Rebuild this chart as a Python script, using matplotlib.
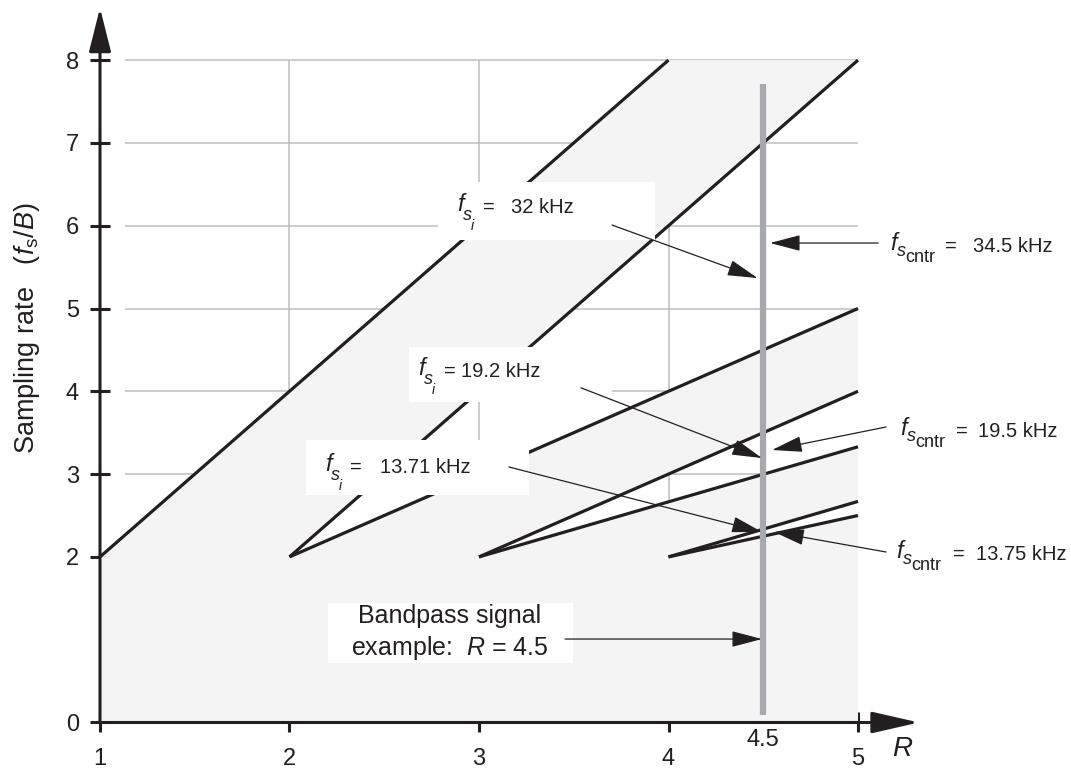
import matplotlib
matplotlib.use('Agg')
import matplotlib.pyplot as plt
from matplotlib.patches import Rectangle

plt.rcParams['font.family'] = ['Liberation Sans', 'DejaVu Sans']
plt.rcParams['mathtext.fontset'] = 'custom'
plt.rcParams['mathtext.rm'] = 'Liberation Sans'
plt.rcParams['mathtext.it'] = 'Liberation Sans:italic'
plt.rcParams['mathtext.bf'] = 'Liberation Sans:bold'

INK = '#231f20'

# boundary lines (start, end)
upper_r = [(1, 4), (2, 5), (3, 5), (4, 5)]
upper_fs = [(2, 8), (2, 5), (2, 3.33), (2, 2.5)]
lower_r = [(2, 5), (3, 5), (4, 5), (5, 5)]
lower_fs = [(2, 8), (2, 4), (2, 2.67), (2, 2)]

grid_x = [2, 3, 4]
grid_y = [3, 4, 5, 6, 7, 8]
x_ticks = [1, 2, 3, 4, 5]
y_ticks = [0, 2, 3, 4, 5, 6, 7, 8]
r_example = 4.5

fs_i_values = ['32 kHz', '19.2 kHz', '13.71 kHz']
fs_cntr_values = ['34.5 kHz', '19.5 kHz', '13.75 kHz']

fig = plt.figure(figsize=(10.71, 7.73), dpi=100)
ax = fig.add_axes([0, 0, 1, 1])
ax.set_xlim(0.4723, 6.124)
ax.set_ylim(-0.610, 8.726)

# grid sits under the shaded (non-allowed) regions
ax.hlines(grid_y, 1.13, 5, color='#bdbec0', lw=1.1, zorder=1)
ax.vlines(grid_x, 0, 8, color='#bdbec0', lw=1.1, zorder=1)

# shaded regions
shade = '#f4f4f4'
ax.fill([1, 5, 5, 1], [0, 0, 2, 2], color=shade, lw=0, zorder=2)
for ur, uf, lr, lf in zip(upper_r, upper_fs, lower_r, lower_fs):
    xs = [ur[0], ur[1], lr[1], lr[0]]
    ys = [uf[0], uf[1], lf[1], lf[0]]
    if uf[1] == 8:
        xs.insert(2, lr[1])
        ys.insert(2, 8)
    ax.fill(xs, ys, color=shade, lw=0, zorder=2)

# boundary lines
for r, f in zip(upper_r + lower_r, upper_fs + lower_fs):
    if r[0] == r[1]:
        continue
    ax.plot(r, f, color=INK, lw=2.3, solid_capstyle='butt', zorder=3)

# example line at R = 4.5
ax.vlines(r_example, 0.085, 7.71, color='#a7a9ac', lw=4.5, zorder=4)

# axes with arrow heads
for s in ['top', 'right', 'left', 'bottom']:
    ax.spines[s].set_visible(False)
ax.spines['left'].set_position(('data', 1))
ax.spines['bottom'].set_position(('data', 0))
ax.annotate('', xy=(1, 8.63), xytext=(1, 0),
            arrowprops=dict(arrowstyle='-|>,head_length=2.7,head_width=0.68',
                            lw=2.2, color=INK, shrinkA=0, shrinkB=0,
                            mutation_scale=10), zorder=5)
ax.annotate('', xy=(5.322, 0), xytext=(0.985, 0),
            arrowprops=dict(arrowstyle='-|>,head_length=2.9,head_width=0.66',
                            lw=2.2, color=INK, shrinkA=0, shrinkB=0,
                            mutation_scale=10), zorder=5)

ax.set_xticks(x_ticks)
ax.set_xticks([r_example], labels=['4.5'], minor=True)
ax.set_yticks(y_ticks)
ax.tick_params(axis='both', which='major', direction='inout', length=14.4,
               width=2.2, color=INK, labelcolor=INK, labelsize=17)
ax.tick_params(axis='x', which='major', pad=11)
ax.tick_params(axis='y', which='major', pad=8)
ax.tick_params(axis='x', which='minor', length=0, pad=5, labelsize=17,
               labelcolor=INK)

ax.set_ylabel(r'Sampling rate   ($f_\mathrm{s}/B$)', fontsize=19.5, color=INK,
              va='center')
ax.yaxis.set_label_coords(0.0252, 0.5757)
ax.text(5.237, -0.32, r'$R$', fontsize=20, color=INK, ha='center', va='center')

# white label boxes
boxes = [(2.784, 5.827, 3.929, 6.528),
         (2.633, 3.871, 3.702, 4.54),
         (2.087, 2.748, 3.264, 3.412),
         (2.203, 0.719, 3.496, 1.443)]
for x0, y0, x1, y1 in boxes:
    ax.add_patch(Rectangle((x0, y0), x1 - x0, y1 - y0, facecolor='white',
                           edgecolor='none', zorder=6))


def px_to_data(px, py):
    return 1 + (px - 100) / 189.5, (722.5 - py) / 82.8


def fs_label(px, py, sub, value, eq_dx, val_dx):
    # px, py: left edge of the f and the text baseline, in figure pixels
    k = 0.72  # pixels -> points
    if sub == 'i':
        parts = [('f', 0, 2, 17, 'italic'), ('s', 6, -7, 13, 'italic'),
                 ('i', 14, -17, 10, 'italic')]
    else:
        parts = [('f', 0, 2, 17, 'italic'), ('s', 7, -4, 13, 'italic'),
                 ('cntr', 15, -10, 13, 'normal')]
    parts += [('=', eq_dx, 0, 14.5, 'normal'), (value, val_dx, 0, 14.5, 'normal')]
    xy = px_to_data(px, py)
    for txt, dx, dy, size, style in parts:
        ax.annotate(txt, xy=xy, xytext=(dx * k, dy * k),
                    textcoords='offset points', fontsize=size, fontstyle=style,
                    color=INK, ha='left', va='baseline', zorder=7)


fs_label(457, 213, 'i', fs_i_values[0], 26, 54)
fs_label(418, 377, 'i', fs_i_values[1], 26, 43)
fs_label(325, 473, 'i', fs_i_values[2], 25, 55)
fs_label(890, 252, 'cntr', fs_cntr_values[0], 55, 83)
fs_label(900, 437, 'cntr', fs_cntr_values[1], 56, 78)
fs_label(896, 560, 'cntr', fs_cntr_values[2], 57, 80)

ax.text(2.845, 1.081, 'Bandpass signal\nexample:  $R$ = 4.5', fontsize=18,
        color=INK, ha='center', va='center', linespacing=1.25, zorder=7)

arrows = [((3.702, 6.008), (4.470, 5.368)),
          ((5.106, 5.791), (4.536, 5.791)),
          ((3.538, 4.042), (4.493, 3.194)),
          ((5.148, 3.569), (4.546, 3.291)),
          ((3.158, 3.086), (4.493, 2.301)),
          ((5.148, 2.059), (4.557, 2.301)),
          ((3.454, 1.008), (4.493, 1.008))]
for start, tip in arrows:
    ax.annotate('', xy=tip, xytext=start,
                arrowprops=dict(arrowstyle='-|>,head_length=1.9,head_width=0.5',
                                lw=0.9, color=INK, shrinkA=0, shrinkB=0,
                                mutation_scale=10), zorder=8)

fig.savefig('out.png', dpi=100)
